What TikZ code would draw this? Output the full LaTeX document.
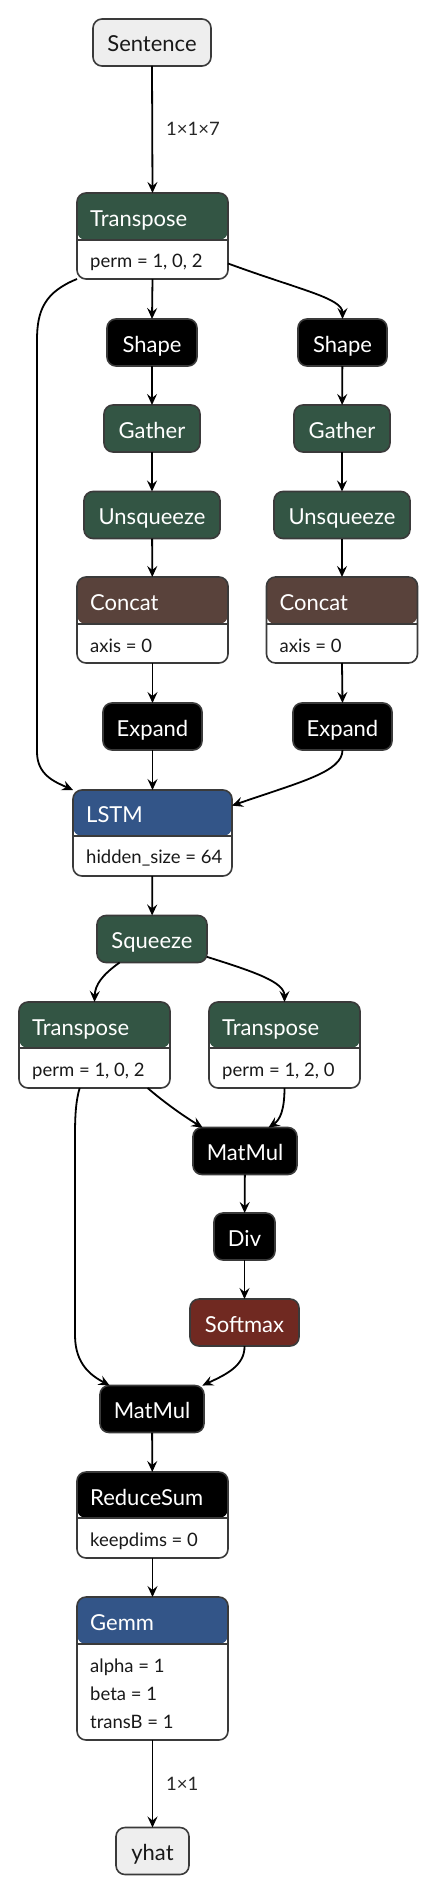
\documentclass[tikz,border=0pt]{standalone}
\usepackage{fontspec}
\setmainfont{Lato}
\usetikzlibrary{arrows.meta,calc}
\definecolor{trans}{RGB}{51,85,68}
\definecolor{tensorc}{RGB}{89,66,59}
\definecolor{layerc}{RGB}{51,85,136}
\definecolor{actc}{RGB}{112,41,33}
\definecolor{ioc}{RGB}{238,238,238}
\definecolor{bord}{RGB}{58,58,58}
\newcommand{\ttlfont}{\fontsize{22}{26}\selectfont}
\newcommand{\attrfont}{\fontsize{18.5}{22}\selectfont}
\tikzset{
  boxbase/.style={draw=bord, line width=1.6pt, rounded corners=9pt, inner sep=0pt, outer sep=0pt},
  simple/.style={boxbase, fill=#1, text=white, font=\ttlfont, minimum height=47pt, text height=21pt, text depth=2pt},
  iobox/.style={simple=ioc, text=black!90},
  opbox/.style n args={2}{boxbase, fill=white,
    path picture={\fill[#1] (path picture bounding box.north west) rectangle ([yshift=-#2]path picture bounding box.north east);
      \draw[bord,line width=1.6pt] ([yshift=-#2]path picture bounding box.north west) -- ([yshift=-#2]path picture bounding box.north east);}},
  ttl/.style={text=white, font=\ttlfont, inner sep=0pt, anchor=base west},
  attr/.style={text=black!90, font=\attrfont, inner sep=0pt, anchor=base west},
  elab/.style={text=black!85, font=\attrfont, inner sep=0pt, anchor=base west},
  edge/.style={draw=black, line width=1.8pt, -{Stealth[length=11pt,width=10pt,inset=4pt]}}
}
\begin{document}
\begin{tikzpicture}[x=1pt,y=-1pt]
\useasboundingbox (0,0) rectangle (438,1894);
\fill[white] (0,0) rectangle (438,1894);

% input
\node[iobox, minimum width=118pt] (sent) at (152,42.5) {Sentence};

% Transpose 1
\node[opbox={trans}{47pt}, minimum width=151pt, minimum height=86pt] (t1) at (152.5,236) {};
\node[ttl] (t1t) at ([shift={(13,33.5)}]t1.north west) {Transpose};
\node[attr] (t1a) at ([shift={(13,75)}]t1.north west) {perm = 1, 0, 2};

% left column
\node[simple=black, minimum width=90pt] (shl) at (152,342.5) {Shape};
\node[simple=trans, minimum width=96pt] (gal) at (152,428.5) {Gather};
\node[simple=trans, minimum width=136pt] (unl) at (152,515) {Unsqueeze};
\node[opbox={tensorc}{47pt}, minimum width=151pt, minimum height=86pt] (col) at (152.5,620) {};
\node[ttl] (colt) at ([shift={(13,33.5)}]col.north west) {Concat};
\node[attr] (cola) at ([shift={(13,75)}]col.north west) {axis = 0};
\node[simple=black, minimum width=99pt] (exl) at (152.5,726.5) {Expand};

% right column
\node[simple=black, minimum width=89pt] (shr) at (342.5,342.5) {Shape};
\node[simple=trans, minimum width=96pt] (gar) at (342,428.5) {Gather};
\node[simple=trans, minimum width=136pt] (unr) at (342,515) {Unsqueeze};
\node[opbox={tensorc}{47pt}, minimum width=151pt, minimum height=86pt] (cor) at (342,620) {};
\node[ttl] (cort) at ([shift={(13,33.5)}]cor.north west) {Concat};
\node[attr] (cora) at ([shift={(13,75)}]cor.north west) {axis = 0};
\node[simple=black, minimum width=99pt] (exr) at (342.5,726.5) {Expand};

% LSTM
\node[opbox={layerc}{46pt}, minimum width=159pt, minimum height=86pt] (lstm) at (152.5,833) {};
\node[ttl] (lstmt) at ([shift={(13,32.5)}]lstm.north west) {LSTM};
\node[attr] (lstma) at ([shift={(13,73.5)}]lstm.north west) {hidden\_size = 64};

\node[simple=trans, minimum width=110pt] (sq) at (152,939) {Squeeze};

\node[opbox={trans}{46pt}, minimum width=151pt, minimum height=86pt] (t2) at (94.5,1045) {};
\node[ttl] (t2t) at ([shift={(13,33.5)}]t2.north west) {Transpose};
\node[attr] (t2a) at ([shift={(13,74)}]t2.north west) {perm = 1, 0, 2};

\node[opbox={trans}{46pt}, minimum width=151pt, minimum height=86pt] (t3) at (284.5,1045) {};
\node[ttl] (t3t) at ([shift={(13,33.5)}]t3.north west) {Transpose};
\node[attr] (t3a) at ([shift={(13,74)}]t3.north west) {perm = 1, 2, 0};

\node[simple=black, minimum width=104pt] (mm1) at (245,1151) {MatMul};
\node[simple=black, minimum width=61pt] (div) at (244.5,1236.5) {Div};
\node[simple=actc, minimum width=109pt] (soft) at (244.5,1322.5) {Softmax};
\node[simple=black, minimum width=104pt] (mm2) at (152,1409) {MatMul};

\node[opbox={black}{46pt}, minimum width=151pt, minimum height=86pt] (rs) at (152.5,1515) {};
\node[ttl] (rst) at ([shift={(13,33.5)}]rs.north west) {ReduceSum};
\node[attr] (rsa) at ([shift={(13,74)}]rs.north west) {keepdims = 0};

\node[opbox={layerc}{47pt}, minimum width=151pt, minimum height=143pt] (gemm) at (152.5,1668.5) {};
\node[ttl] (gemmt) at ([shift={(13,33.5)}]gemm.north west) {Gemm};
\node[attr] (gemma1) at ([shift={(13,75)}]gemm.north west) {alpha = 1};
\node[attr] (gemma2) at ([shift={(13,103)}]gemm.north west) {beta = 1};
\node[attr] (gemma3) at ([shift={(13,131)}]gemm.north west) {transB = 1};

\node[iobox, minimum width=73pt] (yhat) at (152.5,1851) {yhat};

% edge labels
\node[elab] (l1) at (166,136) {1×1×7};
\node[elab] (l2) at (166,1790) {1×1};

% edges
\draw[edge] (sent.south) -- (t1.north);
\draw[edge] (t1.south) -- (shl.north);
\draw[edge] (t1.-20) .. controls (300,290) and (342.5,298) .. (shr.north);
\draw[edge] (t1.south west) .. controls (45,292) and (37,310) .. (37,340) -- (37,752) .. controls (37,775) and (55,782) .. (lstm.north west);
\draw[edge] (shl) -- (gal);
\draw[edge] (gal) -- (unl);
\draw[edge] (unl) -- (col);
\draw[edge] (col) -- (exl);
\draw[edge] (exl) -- (lstm);
\draw[edge] (shr) -- (gar);
\draw[edge] (gar) -- (unr);
\draw[edge] (unr) -- (cor);
\draw[edge] (cor.south) -- (exr.north);
\draw[edge] (exr.south) .. controls (342.5,772) and (300,782) .. (lstm.19);
\draw[edge] (lstm) -- (sq);
\draw[edge] (sq.216) .. controls (102,975) and (95,985) .. (t2.north);
\draw[edge] (sq.-18) .. controls (255,972) and (284.5,982) .. (t3.north);
\draw[edge] (t2.251) .. controls (76,1100) and (75,1115) .. (75,1135) -- (75,1335) .. controls (75,1365) and (92,1376) .. (mm2.151);
\draw[edge] (t2.-39) .. controls (165,1103) and (185,1117) .. (mm1.151);
\draw[edge] (t3.south) .. controls (284.5,1110) and (280,1120) .. (mm1.45);
\draw[edge] (mm1) -- (div);
\draw[edge] (div) -- (soft);
\draw[edge] (soft.south) .. controls (245,1366) and (225,1375) .. (mm2.25);
\draw[edge] (mm2) -- (rs);
\draw[edge] (rs) -- (gemm);
\draw[edge] (gemm) -- (yhat);
\end{tikzpicture}
\end{document}
